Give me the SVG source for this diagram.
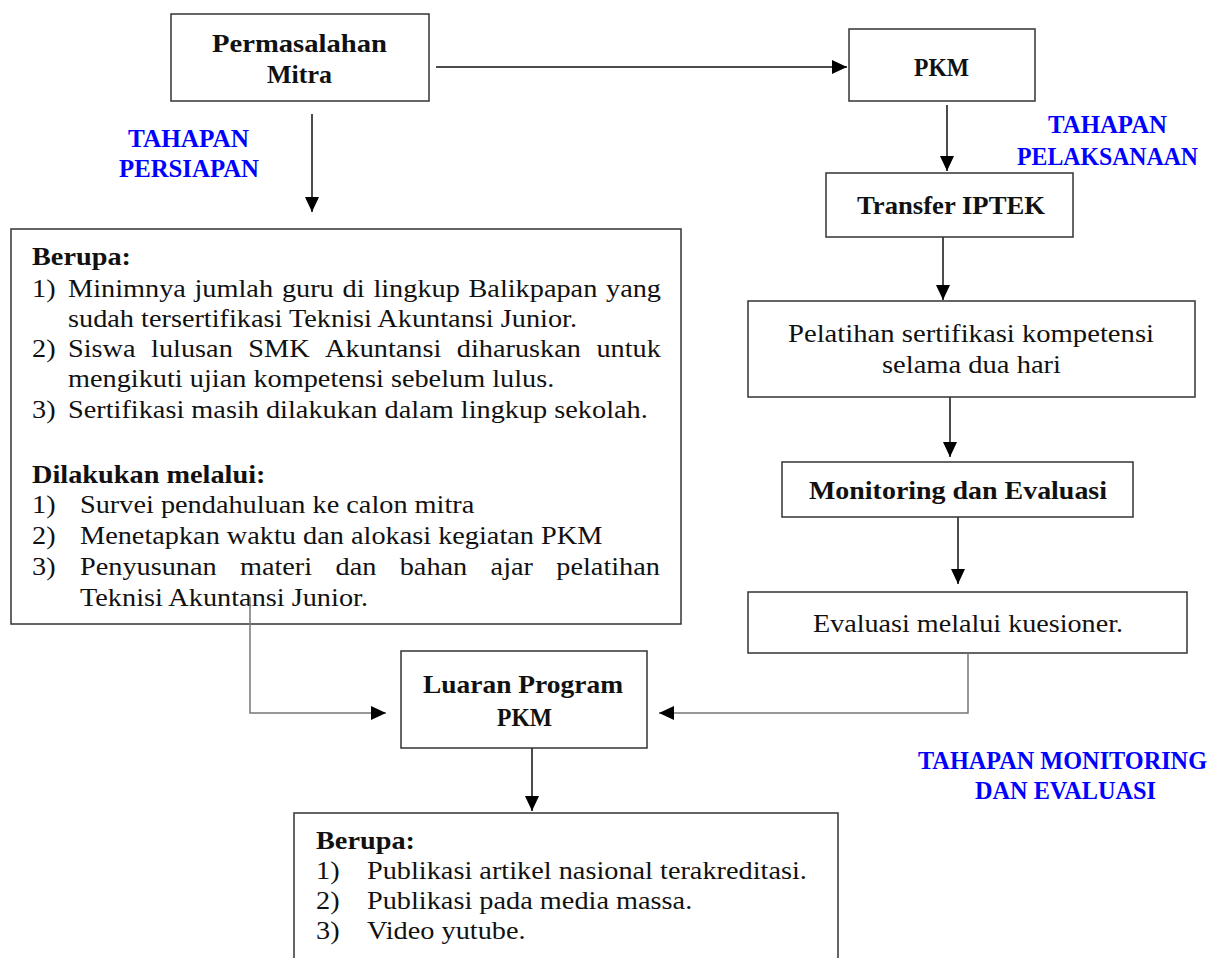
<svg xmlns="http://www.w3.org/2000/svg" width="1216" height="958" viewBox="0 0 1216 958">
<style>
.box{fill:#fff;stroke:#333;stroke-width:1.5}
.t{font-family:"Liberation Serif","Times New Roman",serif;fill:#111}
.r{font-size:25px}
.b{font-size:26px;font-weight:bold}
.blue{font-family:"Liberation Serif","Times New Roman",serif;font-size:25px;font-weight:bold;fill:#0000ff}
.lst{font-family:"Liberation Serif","Times New Roman",serif;font-size:25.5px;fill:#111}
.lst .hb{font-weight:bold}
.ar{fill:none;stroke:#111;stroke-width:1.5}
.cg{fill:none;stroke:#777;stroke-width:1.5}
</style>
<defs>
<marker id="ah" markerUnits="userSpaceOnUse" markerWidth="16" markerHeight="14" refX="15" refY="7" orient="auto">
<path d="M0,0 L15,7 L0,14 z" fill="#000"/>
</marker>
</defs>

<g id="connectors">
<line class="ar" x1="436" y1="67" x2="847" y2="67" marker-end="url(#ah)"/>
<line class="ar" x1="312" y1="114" x2="312" y2="212" marker-end="url(#ah)"/>
<line class="ar" x1="947" y1="105" x2="947" y2="171" marker-end="url(#ah)"/>
<line class="ar" x1="943" y1="237" x2="943" y2="300" marker-end="url(#ah)"/>
<line class="ar" x1="950" y1="391" x2="950" y2="457" marker-end="url(#ah)"/>
<line class="ar" x1="958" y1="517" x2="958" y2="584" marker-end="url(#ah)"/>
<line class="ar" x1="532" y1="748" x2="532" y2="811" marker-end="url(#ah)"/>
</g>

<g id="permasalahan">
<rect class="box" x="171" y="14" width="258" height="87"/>
<text class="t b" x="212" y="52" textLength="175" lengthAdjust="spacingAndGlyphs">Permasalahan</text>
<text class="t b" x="267" y="83" textLength="65" lengthAdjust="spacingAndGlyphs">Mitra</text>
</g>

<g id="pkm">
<rect class="box" x="849" y="29" width="186" height="72"/>
<text class="t b" x="914" y="76" textLength="55" lengthAdjust="spacingAndGlyphs">PKM</text>
</g>

<g id="label-persiapan">
<text class="blue" x="128" y="147" textLength="121" lengthAdjust="spacingAndGlyphs">TAHAPAN</text>
<text class="blue" x="119" y="177" textLength="140" lengthAdjust="spacingAndGlyphs">PERSIAPAN</text>
</g>

<g id="label-pelaksanaan">
<text class="blue" x="1048" y="133" textLength="119" lengthAdjust="spacingAndGlyphs">TAHAPAN</text>
<text class="blue" x="1017" y="165" textLength="181" lengthAdjust="spacingAndGlyphs">PELAKSANAAN</text>
</g>

<g id="transfer">
<rect class="box" x="826" y="173" width="247" height="64"/>
<text class="t b" x="857" y="214" textLength="188" lengthAdjust="spacingAndGlyphs">Transfer IPTEK</text>
</g>

<g id="pelatihan">
<rect class="box" x="748" y="301" width="447" height="96"/>
<text class="t r" x="788" y="342" textLength="366" lengthAdjust="spacingAndGlyphs">Pelatihan sertifikasi kompetensi</text>
<text class="t r" x="882" y="373" textLength="179" lengthAdjust="spacingAndGlyphs">selama dua hari</text>
</g>

<g id="monitoring">
<rect class="box" x="782" y="462" width="351" height="55"/>
<text class="t b" x="809" y="499" textLength="298" lengthAdjust="spacingAndGlyphs">Monitoring dan Evaluasi</text>
</g>

<g id="evaluasi">
<rect class="box" x="748" y="592" width="439" height="61"/>
<text class="t r" x="813" y="632" textLength="310" lengthAdjust="spacingAndGlyphs">Evaluasi melalui kuesioner.</text>
</g>

<g id="persiapan-detail">
<rect class="box" x="11" y="229" width="670" height="395"/>
<g class="lst" transform="scale(1.11,1)">
<text class="hb" x="28.83" y="265">Berupa:</text>
<text y="297"><tspan x="28.83">1) </tspan><tspan x="61.26">Minimnya </tspan><tspan x="175.23">jumlah </tspan><tspan x="253.96">guru </tspan><tspan x="308.56">di </tspan><tspan x="336.40">lingkup </tspan><tspan x="422.07">Balikpapan </tspan><tspan x="545.95">yang</tspan></text>
<text x="61.26" y="327">sudah tersertifikasi Teknisi Akuntansi Junior.</text>
<text y="357"><tspan x="28.83">2) </tspan><tspan x="61.26">Siswa </tspan><tspan x="136.13">lulusan </tspan><tspan x="223.69">SMK </tspan><tspan x="292.88">Akuntansi </tspan><tspan x="411.53">diharuskan </tspan><tspan x="537.30">untuk</tspan></text>
<text x="61.26" y="387">mengikuti ujian kompetensi sebelum lulus.</text>
<text y="418"><tspan x="28.83">3) </tspan><tspan x="61.26">Sertifikasi masih dilakukan dalam lingkup sekolah.</tspan></text>
<text class="hb" x="28.83" y="483">Dilakukan melalui:</text>
<text y="513"><tspan x="28.83">1) </tspan><tspan x="72.07">Survei pendahuluan ke calon mitra</tspan></text>
<text y="544"><tspan x="28.83">2) </tspan><tspan x="72.07">Menetapkan waktu dan alokasi kegiatan PKM</tspan></text>
<text y="575"><tspan x="28.83">3) </tspan><tspan x="72.07">Penyusunan </tspan><tspan x="216.13">materi </tspan><tspan x="302.25">dan </tspan><tspan x="360.09">bahan </tspan><tspan x="441.98">ajar </tspan><tspan x="501.17">pelatihan</tspan></text>
<text x="72.07" y="606">Teknisi Akuntansi Junior.</text>
</g>
</g>

<g id="luaran">
<rect class="box" x="401" y="651" width="246" height="97"/>
<text class="t b" x="423" y="693" textLength="200" lengthAdjust="spacingAndGlyphs">Luaran Program</text>
<text class="t b" x="497" y="726" textLength="55" lengthAdjust="spacingAndGlyphs">PKM</text>
</g>

<g id="connectors-luaran">
<path class="cg" d="M250,597 V713 H386" marker-end="url(#ah)"/>
<path class="cg" d="M968,653 V713 H659" marker-end="url(#ah)"/>
</g>

<g id="label-monev">
<text class="blue" x="918" y="769" textLength="289" lengthAdjust="spacingAndGlyphs">TAHAPAN MONITORING</text>
<text class="blue" x="975" y="799" textLength="181" lengthAdjust="spacingAndGlyphs">DAN EVALUASI</text>
</g>

<g id="luaran-detail">
<rect class="box" x="294" y="813" width="544" height="170"/>
<g class="lst" transform="scale(1.11,1)">
<text class="hb" x="284.68" y="849">Berupa:</text>
<text y="879"><tspan x="284.68">1) </tspan><tspan x="330.63">Publikasi artikel nasional terakreditasi.</tspan></text>
<text y="909"><tspan x="284.68">2) </tspan><tspan x="330.63">Publikasi pada media massa.</tspan></text>
<text y="939"><tspan x="284.68">3) </tspan><tspan x="330.63">Video yutube.</tspan></text>
</g>
</g>
</svg>
